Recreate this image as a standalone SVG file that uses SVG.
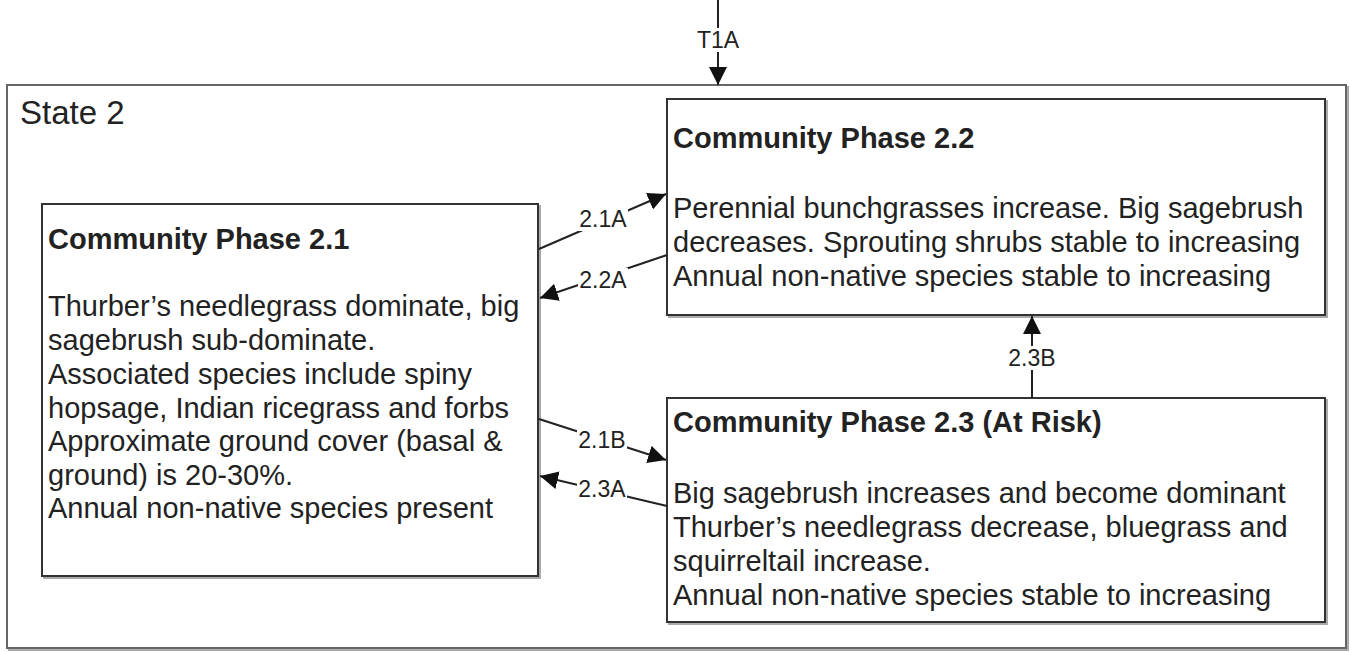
<svg xmlns="http://www.w3.org/2000/svg" width="1350" height="652" viewBox="0 0 1350 652">
<defs>
<style>
.box{fill:#fff;stroke:#333;stroke-width:2}
.shadow{fill:none;stroke:#aaa;stroke-width:2}
.outer{fill:#fff;stroke:#666;stroke-width:2}
.t{font-family:"Liberation Sans",Arial,sans-serif;font-size:29px;fill:#222}
.h{font-family:"Liberation Sans",Arial,sans-serif;font-size:29px;font-weight:bold;fill:#222}
.st{font-family:"Liberation Sans",Arial,sans-serif;font-size:33px;fill:#222}
.lbl{font-family:"Liberation Sans",Arial,sans-serif;font-size:23px;fill:#222;text-anchor:middle}
.lb{fill:#fff;stroke:none}
.c{fill:none;stroke:#222;stroke-width:2}
</style>
<marker id="arr" viewBox="0 0 10 10" refX="10" refY="5" markerWidth="18" markerHeight="18" markerUnits="userSpaceOnUse" orient="auto">
<path d="M0,0 L10,5 L0,10 Z" fill="#111"/>
</marker>
</defs>
<rect width="1350" height="652" fill="#fff"/>
<g id="state2">
<rect class="shadow" x="9" y="87" width="1339" height="563"/>
<rect class="outer" x="7" y="85" width="1339" height="563"/>
<text class="st" x="20" y="124">State 2</text>
</g>
<g id="phase21">
<rect class="shadow" x="44" y="206" width="496" height="372"/>
<rect class="box" x="42" y="204" width="496" height="372"/>
<text class="h" x="48" y="249">Community Phase 2.1</text>
<text class="t" x="48" y="316">Thurber’s needlegrass dominate, big</text>
<text class="t" x="48" y="350">sagebrush sub-dominate.</text>
<text class="t" x="48" y="384">Associated species include spiny</text>
<text class="t" x="48" y="418">hopsage, Indian ricegrass and forbs</text>
<text class="t" x="48" y="451">Approximate ground cover (basal &amp;</text>
<text class="t" x="48" y="485">ground) is 20-30%.</text>
<text class="t" x="48" y="518">Annual non-native species present</text>
</g>
<g id="phase22">
<rect class="shadow" x="669" y="101" width="658" height="216"/>
<rect class="box" x="667" y="99" width="658" height="216"/>
<text class="h" x="673" y="148">Community Phase 2.2</text>
<text class="t" x="673" y="218">Perennial bunchgrasses increase. Big sagebrush</text>
<text class="t" x="673" y="252">decreases. Sprouting shrubs stable to increasing</text>
<text class="t" x="673" y="286">Annual non-native species stable to increasing</text>
</g>
<g id="phase23">
<rect class="shadow" x="669" y="400" width="658" height="224"/>
<rect class="box" x="667" y="398" width="658" height="224"/>
<text class="h" x="673" y="432">Community Phase 2.3 (At Risk)</text>
<text class="t" x="673" y="503">Big sagebrush increases and become dominant</text>
<text class="t" x="673" y="537">Thurber’s needlegrass decrease, bluegrass and</text>
<text class="t" x="673" y="571">squirreltail increase.</text>
<text class="t" x="673" y="605">Annual non-native species stable to increasing</text>
</g>
<g id="connectors">
<line class="c" x1="718" y1="0" x2="718" y2="85" marker-end="url(#arr)"/>
<rect class="lb" x="695" y="28" width="46" height="24"/>
<text class="lbl" x="718" y="48">T1A</text>
<line class="c" x1="539" y1="249" x2="666" y2="194" marker-end="url(#arr)"/>
<rect class="lb" x="578" y="207" width="50" height="24"/>
<text class="lbl" x="603" y="227">2.1A</text>
<line class="c" x1="667" y1="255" x2="540" y2="298" marker-end="url(#arr)"/>
<rect class="lb" x="578" y="268" width="50" height="24"/>
<text class="lbl" x="603" y="288">2.2A</text>
<line class="c" x1="539" y1="419" x2="666" y2="460" marker-end="url(#arr)"/>
<rect class="lb" x="577" y="428" width="50" height="24"/>
<text class="lbl" x="602" y="448">2.1B</text>
<line class="c" x1="667" y1="506" x2="540" y2="476" marker-end="url(#arr)"/>
<rect class="lb" x="577" y="477" width="50" height="24"/>
<text class="lbl" x="602" y="497">2.3A</text>
<line class="c" x1="1032" y1="398" x2="1032" y2="316" marker-end="url(#arr)"/>
<rect class="lb" x="1007" y="346" width="50" height="24"/>
<text class="lbl" x="1032" y="366">2.3B</text>
</g>
</svg>
